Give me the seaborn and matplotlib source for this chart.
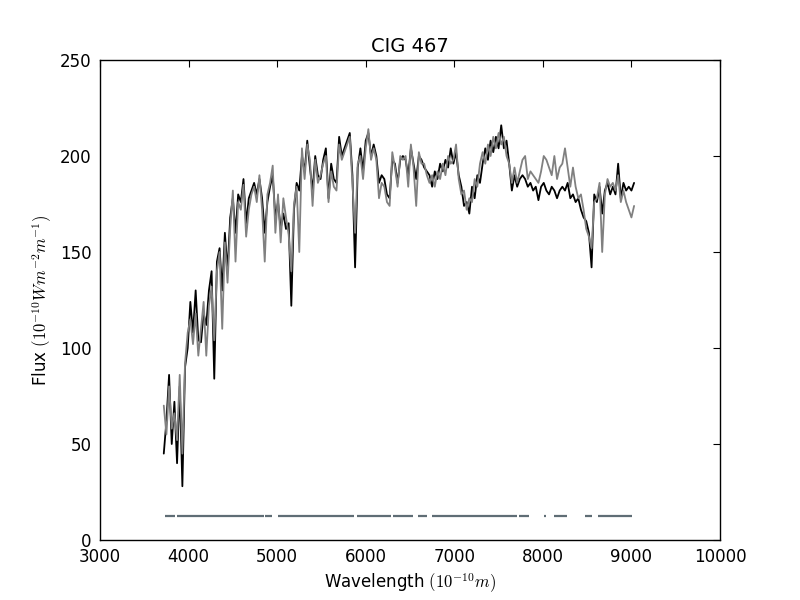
import numpy as np
import pandas as pd
import matplotlib
matplotlib.use("Agg")
import matplotlib.pyplot as plt
import seaborn as sns

# wavelength grid of the resampled spectrum (Angstrom)
wavelength = np.arange(3720, 9031, 30)

# observed flux (black)
flux_obs = [
    45, 62, 86, 50, 72, 40, 80, 28, 90, 100,
    124, 108, 130, 104, 103, 118, 112, 130, 140, 84,
    145, 152, 130, 160, 140, 168, 178, 160, 180, 176,
    188, 165, 178, 182, 186, 180, 188, 178, 160, 176,
    184, 190, 168, 176, 162, 170, 162, 165, 122, 172,
    186, 182, 200, 192, 208, 194, 182, 200, 190, 188,
    198, 204, 178, 196, 188, 186, 210, 200, 204, 208,
    212, 190, 142, 194, 204, 192, 208, 212, 200, 206,
    200, 186, 190, 188, 180, 178, 198, 196, 186, 198,
    200, 198, 190, 204, 196, 188, 200, 198, 194, 192,
    190, 184, 192, 188, 196, 192, 198, 194, 204, 196,
    202, 190, 184, 174, 176, 170, 184, 178, 190, 186,
    196, 204, 198, 208, 202, 210, 204, 216, 204, 208,
    196, 182, 190, 184, 188, 190, 188, 184, 186, 182,
    184, 177, 184, 186, 182, 180, 184, 182, 178, 182,
    184, 182, 186, 178, 180, 176, 178, 172, 168, 166,
    160, 142, 180, 176, 184, 170, 182, 186, 180, 184,
    180, 196, 178, 186, 182, 184, 182, 186,
]

# synthetic / model flux (gray)
flux_syn = [
    70, 55, 80, 58, 66, 52, 86, 45, 92, 108,
    115, 102, 118, 96, 110, 124, 96, 122, 132, 104,
    140, 150, 110, 155, 134, 162, 182, 145, 176, 172,
    185, 158, 172, 180, 184, 176, 190, 172, 145, 180,
    186, 195, 160, 180, 155, 178, 168, 159, 140, 175,
    184, 150, 204, 188, 206, 198, 174, 198, 186, 190,
    196, 200, 176, 192, 184, 182, 206, 198, 202, 206,
    210, 186, 160, 196, 200, 188, 204, 214, 198, 204,
    198, 178, 186, 184, 176, 174, 202, 194, 184, 200,
    198, 200, 184, 206, 194, 174, 202, 196, 196, 190,
    186, 190, 184, 192, 188, 196, 190, 200, 196, 198,
    206, 188, 180, 182, 172, 178, 176, 188, 184, 196,
    202, 196, 206, 200, 210, 204, 212, 206, 210, 200,
    196, 186, 194, 186, 192, 198, 200, 188, 192, 190,
    188, 186, 192, 200, 198, 194, 190, 200, 188, 194,
    196, 204, 194, 184, 194, 184, 178, 180, 172, 162,
    158, 152, 176, 178, 186, 150, 180, 188, 184, 186,
    182, 190, 176, 182, 176, 172, 168, 174,
]

# unmasked wavelength windows (start, end)
mask_start = [3734, 3873, 4863, 5010, 5902, 6308, 6590, 6745, 7731, 8013, 8126, 8475, 8622]
mask_end = [3847, 4852, 4939, 5868, 6282, 6530, 6692, 7705, 7844, 8036, 8269, 8551, 9003]
mask_level = 12.5

df = pd.DataFrame({"wl": wavelength, "obs": flux_obs, "syn": flux_syn})

sns.set_theme(style="white")
plt.rcParams["font.family"] = ["DejaVu Sans"]
plt.rcParams["mathtext.fontset"] = "cm"
plt.rcParams["text.color"] = "black"
plt.rcParams["axes.labelcolor"] = "black"
plt.rcParams["xtick.color"] = "black"
plt.rcParams["ytick.color"] = "black"

fig, ax = plt.subplots(figsize=(8, 6), dpi=100)
fig.subplots_adjust(left=0.125, right=0.9, bottom=0.1, top=0.9)

sns.lineplot(data=df, x="wl", y="obs", color="black", lw=1.3,
             estimator=None, sort=False, ax=ax)
sns.lineplot(data=df, x="wl", y="syn", color="0.5", lw=1.3,
             estimator=None, sort=False, ax=ax)
ax.hlines([mask_level] * len(mask_start), mask_start, mask_end,
          color="#5f6d75", lw=1.6)

ax.set_xlim(3000, 10000)
ax.set_ylim(0, 250)
ax.set_title("CIG 467", fontsize=14, color="black")
ax.set_xlabel(r"Wavelength $(10^{-10}m)$", fontsize=12)
ax.set_ylabel(r"Flux $(10^{-10}Wm^{-2}m^{-1})$", fontsize=12)

ax.tick_params(direction="in", top=True, right=True, length=5,
               width=0.8, labelsize=12, colors="black", pad=6)
for s in ax.spines.values():
    s.set_color("black")
    s.set_linewidth(1.0)

plt.savefig("out.png")
